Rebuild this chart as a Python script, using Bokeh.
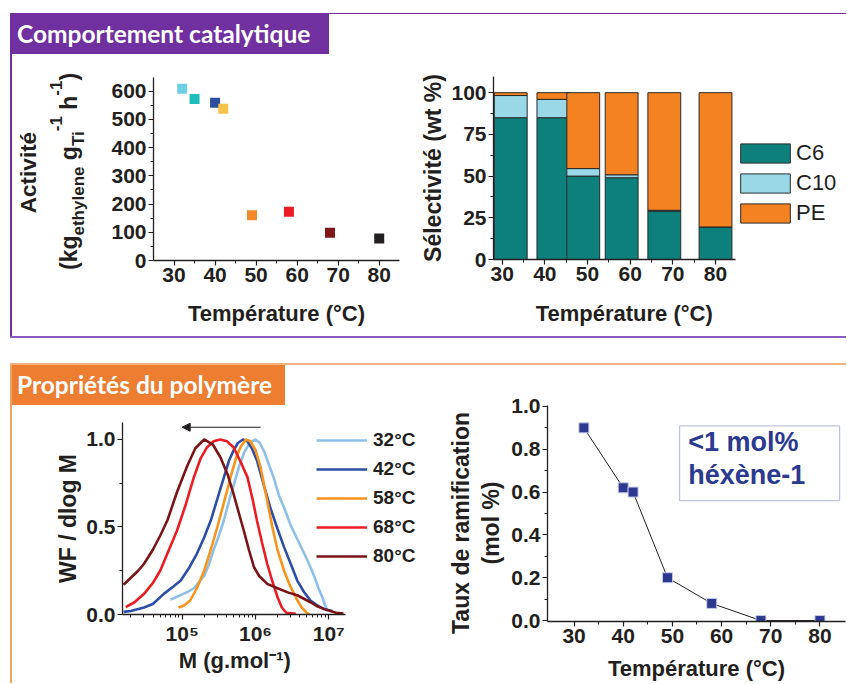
from bokeh.plotting import figure
from bokeh.layouts import row, column
from bokeh.models import (Div, Spacer, Legend, LegendItem, Label, FixedTicker, LogTicker,
                          Arrow, NormalHead, BoxAnnotation, ColumnDataSource,
                          CustomJSTickFormatter, Range1d)
from bokeh.embed import file_html
from bokeh.resources import INLINE

# ---------------- data ----------------
act_temp = [32, 35, 40, 42, 49, 58, 68, 80]
act_value = [608, 572, 559, 537, 160, 173, 98, 78]
act_color = ["#6fcfe0", "#1fbcbc", "#2d4ea0", "#f8c14a", "#f5892a", "#ec1c24", "#801418", "#231f20"]

sel_temp = [32, 42, 49, 58, 68, 80]
sel_c6 = [85, 85, 50, 49, 29, 19.5]
sel_c10 = [13.3, 11, 4.5, 1.8, 0.5, 0]
sel_pe = [1.7, 4, 45.5, 49.2, 70.5, 80.5]
sel_names = ["C6", "C10", "PE"]
sel_colors = ["#0e807c", "#98d8e7", "#f58220"]

gpc_labels = ["32°C", "42°C", "58°C", "68°C", "80°C"]
gpc_colors = ["#8fc0e8", "#2d4ea6", "#f7941d", "#ec1c24", "#7b1416"]
gpc_logm_32 = [4.84, 4.92, 5.00, 5.08, 5.16, 5.24, 5.30, 5.36, 5.43, 5.50, 5.57, 5.64, 5.71, 5.78,
               5.85, 5.92, 6.00, 6.06, 6.12, 6.18, 6.25, 6.32, 6.40, 6.48, 6.56, 6.64, 6.72, 6.80,
               6.86, 6.92, 6.96, 6.99]
gpc_wf_32 = [0.085, 0.10, 0.115, 0.13, 0.15, 0.19, 0.22, 0.28, 0.37, 0.45, 0.54, 0.65, 0.75, 0.85,
             0.93, 0.98, 1.00, 0.98, 0.93, 0.86, 0.78, 0.68, 0.60, 0.51, 0.44, 0.37, 0.30, 0.22,
             0.15, 0.09, 0.04, 0.02]
gpc_logm_42 = [4.20, 4.30, 4.48, 4.60, 4.75, 4.88, 4.98, 5.10, 5.20, 5.30, 5.39, 5.48, 5.57, 5.64,
               5.70, 5.76, 5.83, 5.89, 5.95, 6.02, 6.10, 6.20, 6.30, 6.39, 6.48, 6.57, 6.66, 6.75,
               6.85, 6.93, 7.02, 7.05]
gpc_wf_42 = [0.015, 0.02, 0.04, 0.06, 0.118, 0.16, 0.194, 0.27, 0.347, 0.44, 0.537, 0.66, 0.785, 0.88,
             0.937, 0.98, 1.0, 0.99, 0.95, 0.88, 0.76, 0.613, 0.49, 0.385, 0.29, 0.194, 0.13, 0.08,
             0.05, 0.032, 0.023, 0.02]
gpc_logm_58 = [4.95, 5.02, 5.11, 5.20, 5.30, 5.39, 5.48, 5.57, 5.66, 5.74, 5.80, 5.87, 5.93, 6.00,
               6.07, 6.16, 6.23, 6.30, 6.39, 6.48, 6.56, 6.63, 6.70, 6.74]
gpc_wf_58 = [0.04, 0.05, 0.08, 0.15, 0.25, 0.37, 0.50, 0.64, 0.785, 0.90, 0.96, 1.0, 0.99, 0.94,
             0.84, 0.65, 0.50, 0.37, 0.25, 0.156, 0.09, 0.04, 0.01, 0.0]
gpc_logm_68 = [4.23, 4.35, 4.48, 4.60, 4.70, 4.80, 4.93, 5.05, 5.16, 5.25, 5.34, 5.43, 5.52, 5.61,
               5.70, 5.80, 5.89, 5.96, 6.02, 6.09, 6.16, 6.23, 6.30, 6.36, 6.42, 6.55]
gpc_wf_68 = [0.042, 0.07, 0.118, 0.18, 0.25, 0.35, 0.48, 0.63, 0.785, 0.89, 0.956, 0.99, 1.0, 0.99,
             0.956, 0.87, 0.785, 0.66, 0.537, 0.41, 0.29, 0.19, 0.10, 0.04, 0.01, 0.004]
gpc_logm_80 = [4.20, 4.30, 4.40, 4.48, 4.60, 4.70, 4.80, 4.93, 5.07, 5.18, 5.30, 5.42, 5.52, 5.62,
               5.70, 5.78, 5.84, 5.91, 5.98, 6.05, 6.16, 6.30, 6.45, 6.57, 6.66, 6.75, 6.85, 6.98,
               7.10, 7.20]
gpc_wf_80 = [0.17, 0.21, 0.25, 0.29, 0.37, 0.45, 0.54, 0.70, 0.85, 0.95, 1.0, 0.97, 0.90, 0.80,
             0.69, 0.57, 0.48, 0.37, 0.27, 0.22, 0.175, 0.15, 0.125, 0.11, 0.09, 0.07, 0.045, 0.025,
             0.01, 0.005]
gpc_logm = [gpc_logm_32, gpc_logm_42, gpc_logm_58, gpc_logm_68, gpc_logm_80]
gpc_wf = [gpc_wf_32, gpc_wf_42, gpc_wf_58, gpc_wf_68, gpc_wf_80]
arrow_logm_from, arrow_logm_to, arrow_wf = 6.07, 5.0, 1.07

br_temp = [32, 40, 42, 49, 58, 68, 80]
br_value = [0.90, 0.62, 0.60, 0.20, 0.08, 0.0, 0.0]

# ---------------- style ----------------
FONT = "Liberation Sans"
INK = "#231f20"
PURPLE = "#7030a0"
ORANGE = "#ed7d31"
NAVY = "#2b3990"
NB = "\u00a0"


def style(p, tick_size="21px", title_size="22px"):
    p.outline_line_color = None
    p.xgrid.grid_line_color = None
    p.ygrid.grid_line_color = None
    for ax in p.axis:
        ax.axis_line_color = INK
        ax.axis_line_width = 1.3
        ax.major_tick_line_color = INK
        ax.major_tick_line_width = 1.2
        ax.major_tick_out = 5
        ax.major_tick_in = 0
        ax.minor_tick_line_color = INK
        ax.minor_tick_line_width = 1
        ax.minor_tick_out = 3
        ax.minor_tick_in = 0
        ax.major_label_text_font = FONT
        ax.major_label_text_font_style = "bold"
        ax.major_label_text_font_size = tick_size
        ax.major_label_text_color = INK
        ax.major_label_standoff = 2
        ax.axis_label_text_font = FONT
        ax.axis_label_text_font_style = "bold"
        ax.axis_label_text_font_size = title_size
        ax.axis_label_text_color = INK


def rect(w, h, color):
    return Div(text="", width=w, height=h, margin=0, styles={"background-color": color})


def header(text, w, color):
    html = (f'<div style="display:block;width:{w}px;height:40px;background:{color};color:white;'
            f'font-family:Lato;font-weight:bold;font-size:24.5px;line-height:40px;'
            f'padding-left:5px;box-sizing:border-box;white-space:nowrap">{text}</div>')
    return Div(text=html, width=w, height=40, margin=0)


def svg_div(w, h, body):
    html = (f'<svg xmlns="http://www.w3.org/2000/svg" width="{w}" height="{h}" '
            f'style="display:block" font-family="{FONT}" font-weight="bold" fill="{INK}">'
            f'{body}</svg>')
    return Div(text=html, width=w, height=h, margin=0)


# ---------------- 1: activité ----------------
p1 = figure(width=309, height=282, x_range=Range1d(25, 84.94), y_range=Range1d(0, 648),
            output_backend="svg", toolbar_location=None,
            min_border_left=53, min_border_right=10, min_border_top=23, min_border_bottom=76)
p1.scatter(act_temp, act_value, marker="square", size=10, fill_color=act_color, line_color=None)
style(p1)
p1.xaxis.ticker = FixedTicker(ticks=[30, 40, 50, 60, 70, 80], minor_ticks=[35, 45, 55, 65, 75])
p1.yaxis.ticker = FixedTicker(ticks=[0, 100, 200, 300, 400, 500, 600],
                              minor_ticks=[50, 150, 250, 350, 450, 550])
p1.xaxis.axis_label = "Température (°C)"
p1.xaxis.axis_label_standoff = 16

title1 = svg_div(88, 282,
                 '<text transform="translate(16,118.5) rotate(-90)" text-anchor="middle" '
                 'dominant-baseline="central" font-size="22.5">Activité</text>'
                 '<text transform="translate(65,216) rotate(-90)" font-size="23">(kg'
                 '<tspan dy="7" font-size="17">ethylene</tspan>'
                 '<tspan dy="-7"> g</tspan>'
                 '<tspan dy="7" font-size="17">Ti</tspan>'
                 '<tspan dy="-22" font-size="17">-1</tspan>'
                 '<tspan dy="15"> h</tspan>'
                 '<tspan dy="-15" font-size="17">-1</tspan>'
                 '<tspan dy="15">)</tspan></text>')

# ---------------- 2: sélectivité ----------------
# frame widened to hold the legend; the x axis itself is bounded to the data span
sel_x_lo, sel_x_axis_hi, sel_x_frame_hi = 27.96, 84.7, 109.3
src = ColumnDataSource(dict(T=sel_temp, C6=sel_c6, C10=sel_c10, PE=sel_pe))
p2 = figure(width=437, height=322, x_range=Range1d(sel_x_lo, sel_x_frame_hi),
            y_range=Range1d(0, 109.7),
            output_backend="svg", toolbar_location=None,
            min_border_left=84, min_border_right=6, min_border_top=62, min_border_bottom=77)
rs = p2.vbar_stack(sel_names, x="T", width=7.7, color=sel_colors, line_color="#2a2a2a",
                   line_width=1, source=src)
style(p2)
p2.xaxis.bounds = (sel_x_lo, sel_x_axis_hi)
p2.xaxis.ticker = FixedTicker(ticks=[30, 40, 50, 60, 70, 80], minor_ticks=[35, 45, 55, 65, 75])
p2.yaxis.ticker = FixedTicker(ticks=[0, 25, 50, 75, 100], minor_ticks=[12.5, 37.5, 62.5, 87.5])
p2.xaxis.axis_label = "Température (°C)" + NB * 14
p2.xaxis.axis_label_standoff = 17
p2.yaxis.axis_label = "Sélectivité (wt %)"
p2.yaxis.axis_label_text_font_size = "23px"
p2.yaxis.axis_label_standoff = 2
leg2 = Legend(items=[LegendItem(label=n, renderers=[r]) for n, r in zip(sel_names, rs)],
              location=(241, 33), glyph_width=62, glyph_height=24, label_height=24,
              label_standoff=0, spacing=4,
              padding=0, margin=0, border_line_color=None, background_fill_alpha=0,
              label_text_font=FONT, label_text_font_size="22px", label_text_color=INK)
p2.add_layout(leg2, "center")

# ---------------- 3: GPC ----------------
gpc_x_lo, gpc_x_axis_hi, gpc_x_frame_hi = 10 ** 4.186, 10 ** 7.228, 10 ** 8.251
p3 = figure(width=428, height=279, x_axis_type="log",
            x_range=Range1d(gpc_x_lo, gpc_x_frame_hi), y_range=Range1d(0, 1.097),
            output_backend="svg", toolbar_location=None,
            min_border_left=110, min_border_right=20, min_border_top=17, min_border_bottom=70)
gpc_r = []
for lm, wf, c in zip(gpc_logm, gpc_wf, gpc_colors):
    gpc_r.append(p3.line([10 ** v for v in lm], wf, line_color=c, line_width=2.6))
style(p3)
p3.xaxis.bounds = (gpc_x_lo, gpc_x_axis_hi)
p3.xaxis.ticker = LogTicker(num_minor_ticks=10)
p3.xaxis.formatter = CustomJSTickFormatter(code="""
const sup = {"0":"\\u2070","1":"\\u00b9","2":"\\u00b2","3":"\\u00b3","4":"\\u2074","5":"\\u2075",
             "6":"\\u2076","7":"\\u2077","8":"\\u2078","9":"\\u2079","-":"\\u207b"};
const e = Math.round(Math.log10(tick));
return "10" + String(e).split("").map(c => sup[c]).join("");
""")
p3.yaxis.ticker = FixedTicker(ticks=[0, 0.5, 1.0], minor_ticks=[0.25, 0.75])
p3.yaxis.formatter = CustomJSTickFormatter(code="return tick.toFixed(1);")
p3.xaxis.axis_label = "M (g.mol\u207b\u00b9)" + NB * 12
p3.xaxis.axis_label_standoff = 0
p3.yaxis.axis_label = "WF / dlog M"
p3.yaxis.axis_label_text_font_size = "23px"
p3.yaxis.axis_label_standoff = 2
p3.add_layout(Arrow(x_start=10 ** arrow_logm_from, y_start=arrow_wf, x_end=10 ** arrow_logm_to,
                    y_end=arrow_wf, line_color=INK, line_width=1.2,
                    end=NormalHead(size=8, fill_color=INK, line_color=INK)))
leg3 = Legend(items=[LegendItem(label=n, renderers=[r]) for n, r in zip(gpc_labels, gpc_r)],
              location=(194, 47), glyph_width=51, glyph_height=20, label_standoff=6, spacing=7,
              padding=0, margin=0, border_line_color=None, background_fill_alpha=0,
              label_text_font=FONT, label_text_font_size="19px", label_text_font_style="bold",
              label_text_color=INK)
p3.add_layout(leg3, "center")

# ---------------- 4: branching ----------------
p4 = figure(width=338, height=318, x_range=Range1d(24.6, 85.2), y_range=Range1d(-0.0045, 1.0045),
            output_backend="svg", toolbar_location=None,
            min_border_left=38, min_border_right=1, min_border_top=40, min_border_bottom=56)
p4.line(br_temp, br_value, line_color=INK, line_width=1)
p4.scatter(br_temp, br_value, marker="square", size=10, fill_color=NAVY,
           line_color="#c5c9ea", line_width=1)
style(p4)
p4.xaxis.ticker = FixedTicker(ticks=[30, 40, 50, 60, 70, 80], minor_ticks=[35, 45, 55, 65, 75])
p4.yaxis.ticker = FixedTicker(ticks=[0, 0.2, 0.4, 0.6, 0.8, 1.0],
                              minor_ticks=[0.1, 0.3, 0.5, 0.7, 0.9])
p4.yaxis.formatter = CustomJSTickFormatter(code="return tick.toFixed(1);")
p4.xaxis.axis_label = "Température (°C)"
p4.xaxis.axis_label_standoff = 10
p4.add_layout(BoxAnnotation(left=51.45, right=84.0, top=0.909, bottom=0.560, fill_alpha=0,
                            line_color=NAVY, line_width=1.3))
for txt, yy in [("<1 mol%", 0.764), ("héxène-1", 0.610)]:
    p4.add_layout(Label(x=53.2, y=yy, text=txt, text_font=FONT, text_font_size="27px",
                        text_font_style="bold", text_color=NAVY))

title4 = svg_div(68, 318,
                 '<text transform="translate(21,158) rotate(-90)" text-anchor="middle" '
                 'dominant-baseline="central" font-size="23">Taux de ramification</text>'
                 '<text transform="translate(51,158) rotate(-90)" text-anchor="middle" '
                 'dominant-baseline="central" font-size="23">(mol %)</text>')

# ---------------- page layout ----------------
top = row(rect(2, 322, PURPLE),
          column(header("Comportement catalytique", 317, PURPLE), row(title1, p1)),
          p2)
bottom = row(rect(2, 318, "#f2a25f"),
             column(header("Propriétés du polymère", 273, ORANGE), p3),
             title4, p4)
page = row(Spacer(width=10, height=10, margin=0),
           column(Spacer(width=10, height=13, margin=0),
                  rect(836, 1, PURPLE),
                  top,
                  rect(836, 2, "#8a5cc0"),
                  Spacer(width=10, height=25, margin=0),
                  rect(836, 2, "#f4b183"),
                  bottom))

with open("out.html", "w", encoding="utf-8") as f:
    f.write(file_html(page, INLINE))
